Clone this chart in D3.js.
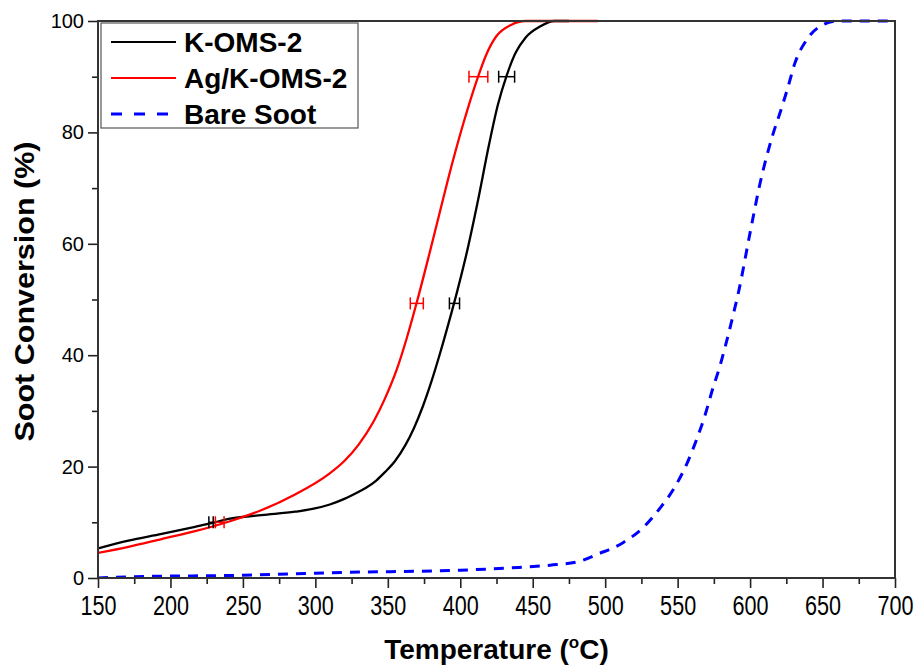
<!DOCTYPE html>
<html>
<head>
<meta charset="utf-8">
<script src="https://cdn.jsdelivr.net/npm/d3@7"></script>
<style>
  body { margin: 0; background: #fff; }
  svg { display: block; font-family: "Liberation Sans", Arial, sans-serif; }
</style>
</head>
<body>
<svg id="chart" width="915" height="666"></svg>
<script>
// K-OMS-2 curve
let tempK = [150, 171, 194, 217, 229, 240, 263, 286, 298, 310, 320, 330, 335, 342, 348, 355, 362, 368, 374, 380, 386, 392, 398, 405, 412, 420, 426, 432, 438, 445, 455, 465, 475]
let convK = [5.3, 6.7, 7.9, 9.2, 9.9, 10.6, 11.3, 11.9, 12.4, 13.2, 14.2, 15.5, 16.2, 17.5, 19.0, 21.0, 23.8, 26.9, 30.7, 35.2, 40.3, 45.8, 51.6, 59, 67.5, 78, 85, 90.2, 94.2, 97, 99, 100, 100]

// Ag/K-OMS-2 curve
let tempAg = [150, 171, 194, 217, 240, 263, 286, 309, 320, 330, 340, 348, 356, 363, 370, 378, 386, 394, 402, 412, 418, 425, 435, 445, 495]
let convAg = [4.5, 5.6, 7.0, 8.4, 10.1, 12.2, 15.0, 18.6, 21.0, 24.0, 28.0, 32.2, 37.3, 43.0, 49.5, 57.5, 65.8, 74, 81.5, 89.8, 94, 97.3, 99.3, 100, 100]

// bare soot curve
let tempBare = [150, 171, 250, 318, 400, 440, 462, 481, 495, 512, 526, 538, 548, 556.5, 563, 569, 574, 579, 584, 588, 592, 600, 607, 615, 622, 626, 631, 639, 650, 660, 700]
let convBare = [0, 0.2, 0.5, 1.0, 1.4, 1.9, 2.3, 2.9, 4.3, 6.3, 9, 12.6, 16.3, 20.6, 24.8, 29.3, 33.8, 37.9, 42.7, 46.9, 51.3, 62, 71, 79, 84.6, 88, 92.5, 96.6, 99.3, 100, 100]

// error bars (T10 / T50 / T90 with +- spread)
let errKT = [228, 396, 432]
let errKV = [10, 49.3, 90]
let errKE = [1.5, 3.5, 5.5]
let errAgT = [234, 370, 412.5]
let errAgV = [10, 49.3, 90]
let errAgE = [3, 4.5, 6.5]

let xTicks = d3.range(150, 701, 50)
let xMinor = d3.range(175, 700, 50)
let yTicks = d3.range(0, 101, 20)
let yMinor = d3.range(10, 100, 20)

let legendNames = ['K-OMS-2', 'Ag/K-OMS-2', 'Bare Soot']
let colors = ['#000000', '#ff0000', '#0000ff']

let margin = { left: 98, right: 20, top: 21, bottom: 88 }
let W = 915, H = 666

let svg = d3.select('#chart')
svg.append('rect').attr('width', W).attr('height', H).attr('fill', '#fff')

let xscale = d3.scaleLinear().domain([150, 700]).range([margin.left, W - margin.right])
let yscale = d3.scaleLinear().domain([0, 100]).range([H - margin.bottom, margin.top])

// minor ticks
svg.append('g').attr('class', 'xminor')
    .attr('transform', `translate(0,${yscale(0)})`)
    .call(d3.axisBottom(xscale).tickValues(xMinor).tickSize(6).tickSizeOuter(0).tickFormat(''))
svg.append('g').attr('class', 'yminor')
    .attr('transform', `translate(${xscale(150)},0)`)
    .call(d3.axisLeft(yscale).tickValues(yMinor).tickSize(6).tickSizeOuter(0).tickFormat(''))

let xaxis = svg.append('g').attr('class', 'xaxis')
    .attr('transform', `translate(0,${yscale(0)})`)
    .call(d3.axisBottom(xscale).tickValues(xTicks).tickSize(10).tickPadding(8).tickSizeOuter(0))
xaxis.selectAll('text')
    .style('font-size', '27px')
    .attr('transform', 'scale(0.8,1)')

let yaxis = svg.append('g').attr('class', 'yaxis')
    .attr('transform', `translate(${xscale(150)},0)`)
    .call(d3.axisLeft(yscale).tickValues(yTicks).tickSize(10).tickPadding(4).tickSizeOuter(0))
yaxis.selectAll('text').style('font-size', '20px')

svg.selectAll('.domain').remove()
svg.selectAll('.tick line').style('stroke', '#222').style('stroke-width', 1.6)
svg.selectAll('.tick text').style('fill', '#000')

// curves
let line = d3.line()
    .x(d => xscale(d[0]))
    .y(d => yscale(d[1]))
    .curve(d3.curveMonotoneX)

svg.append('clipPath').attr('id', 'plotclip')
    .append('rect')
    .attr('x', xscale(150)).attr('y', yscale(100) - 2)
    .attr('width', xscale(700) - xscale(150)).attr('height', yscale(0) - yscale(100) + 2)

let plot = svg.append('g').attr('clip-path', 'url(#plotclip)')

plot.append('path')
    .attr('d', line(d3.zip(tempBare, convBare)))
    .style('fill', 'none')
    .style('stroke', colors[2])
    .style('stroke-width', 3)
    .style('stroke-dasharray', '10,8')

plot.append('path')
    .attr('d', line(d3.zip(tempK, convK)))
    .style('fill', 'none')
    .style('stroke', colors[0])
    .style('stroke-width', 2.3)

plot.append('path')
    .attr('d', line(d3.zip(tempAg, convAg)))
    .style('fill', 'none')
    .style('stroke', colors[1])
    .style('stroke-width', 2.3)

function errorBars(ts, vs, es, color) {
    ts.forEach((t, i) => {
        let cy = yscale(vs[i])
        let x1 = xscale(t - es[i]), x2 = xscale(t + es[i])
        let g = svg.append('g').style('stroke', color).style('stroke-width', 1.5)
        g.append('line').attr('x1', x1).attr('x2', x2).attr('y1', cy).attr('y2', cy)
        g.append('line').attr('x1', x1).attr('x2', x1).attr('y1', cy - 6).attr('y2', cy + 6)
        g.append('line').attr('x1', x2).attr('x2', x2).attr('y1', cy - 6).attr('y2', cy + 6)
    })
}
errorBars(errKT, errKV, errKE, colors[0])
errorBars(errAgT, errAgV, errAgE, colors[1])

// frame
svg.append('rect')
    .attr('x', xscale(150)).attr('y', yscale(100))
    .attr('width', xscale(700) - xscale(150)).attr('height', yscale(0) - yscale(100))
    .style('fill', 'none')
    .style('stroke', '#333')
    .style('stroke-width', 2)

// legend
let lg = svg.append('g').attr('class', 'legend')
lg.append('rect')
    .attr('x', 101).attr('y', 23).attr('width', 257).attr('height', 105)
    .style('fill', '#fff').style('stroke', '#555').style('stroke-width', 1.2)

legendNames.forEach((name, i) => {
    let cy = 42 + i * 36
    lg.append('line')
        .attr('x1', 111).attr('x2', 176)
        .attr('y1', cy).attr('y2', cy)
        .style('stroke', colors[i])
        .style('stroke-width', i == 2 ? 3 : 2.2)
        .style('stroke-dasharray', i == 2 ? '11,12' : null)
    lg.append('text')
        .attr('x', 184).attr('y', cy + 10)
        .style('font-size', '28px')
        .style('font-weight', 'bold')
        .text(name)
})

// axis titles
let xt = svg.append('text')
    .attr('x', (xscale(150) + xscale(700)) / 2)
    .attr('y', 659)
    .attr('text-anchor', 'middle')
    .style('font-size', '28px')
    .style('font-weight', 'bold')
xt.append('tspan').text('Temperature (')
xt.append('tspan').attr('dy', -11).style('font-size', '17px').text('o')
xt.append('tspan').attr('dy', 11).text('C)')

svg.append('text')
    .attr('transform', `translate(34,${(yscale(0) + yscale(100)) / 2 - 8}) rotate(-90)`)
    .attr('text-anchor', 'middle')
    .attr('textLength', 300)
    .attr('lengthAdjust', 'spacingAndGlyphs')
    .style('font-size', '28px')
    .style('font-weight', 'bold')
    .text('Soot Conversion (%)')
</script>
</body>
</html>
